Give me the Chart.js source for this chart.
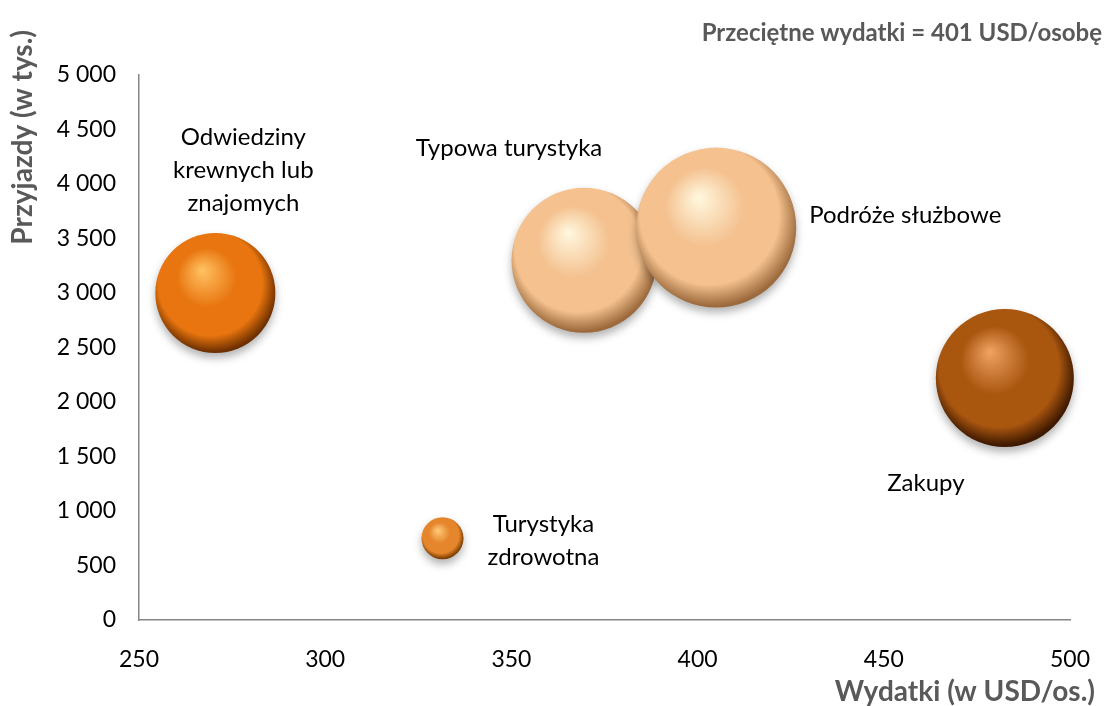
<!DOCTYPE html>
<html lang="pl">
<head>
    <meta charset="UTF-8">
    <title>Przyjazdy a wydatki</title>
    <script src="https://cdn.jsdelivr.net/npm/chart.js"></script>
    <style>
        html, body { margin: 0; padding: 0; background: #fff; }
        #wrap { width: 1108px; height: 706px; position: relative; }
    </style>
</head>
<body>
<div id="wrap"><canvas id="wykres"></canvas></div>
<script>
    // Dane
    const kategorie = ["Odwiedziny krewnych lub znajomych", "Typowa turystyka", "Podróże służbowe", "Zakupy", "Turystyka zdrowotna"];
    const wydatki = [270.5, 369.5, 405, 482.5, 331.5];     // USD/os.
    const przyjazdy = [3000, 3300, 3600, 2220, 750];        // tys.
    const wielkosc = [563, 821, 1000, 744, 69];             // względna wielkość bąbla
    const xTicks = [250, 300, 350, 400, 450, 500];
    const yTicks = [0, 500, 1000, 1500, 2000, 2500, 3000, 3500, 4000, 4500, 5000];

    const FONT = "Lato, 'Open Sans', sans-serif";
    const maxR = 80;
    const maxW = Math.max(...wielkosc);

    // kolory kul: [jasny blik, kolor bazowy, ciemna krawędź]
    const kolory = [
        ['#ffc060', '#e8750f', '#6e3000'],
        ['#fff6dc', '#f4c18f', '#9c6a3c'],
        ['#fff6dc', '#f4c18f', '#9c6a3c'],
        ['#eea060', '#a9560f', '#3e1800'],
        ['#ffc877', '#e5862c', '#7a3a00']
    ];

    // etykiety: przesunięcie względem środka kuli (px)
    const etykiety = [
        { lines: ["Odwiedziny", "krewnych lub", "znajomych"], dx: 28, dy: -156, align: 'center' },
        { lines: ["Typowa turystyka"], dx: -75, dy: -112, align: 'center' },
        { lines: ["Podróże służbowe"], dx: 93, dy: -12, align: 'left' },
        { lines: ["Zakupy"], dx: -79, dy: 105, align: 'center' },
        { lines: ["Turystyka", "zdrowotna"], dx: 101, dy: -14, align: 'center' }
    ];

    const punkty = kategorie.map((k, i) => ({
        x: wydatki[i],
        y: przyjazdy[i],
        r: maxR * Math.sqrt(wielkosc[i] / maxW)
    }));

    function formatTys(v) {
        return String(v).replace(/\B(?=(\d{3})+(?!\d))/g, ' ');
    }

    function kula(ctx) {
        const chart = ctx.chart;
        const i = ctx.dataIndex;
        const c = kolory[i] || kolory[0];
        if (!chart.chartArea || !ctx.raw) return c[1];
        const x = chart.scales.x.getPixelForValue(ctx.raw.x);
        const y = chart.scales.y.getPixelForValue(ctx.raw.y);
        const r = ctx.raw.r;
        const g = chart.ctx.createRadialGradient(x - r * 0.22, y - r * 0.38, r * 0.02, x - r * 0.05, y - r * 0.1, r * 1.08);
        g.addColorStop(0, c[0]);
        g.addColorStop(0.45, c[1]);
        g.addColorStop(0.8, c[1]);
        g.addColorStop(1, c[2]);
        return g;
    }

    const cien = {
        id: 'cien',
        beforeDatasetsDraw(chart) {
            const ctx = chart.ctx;
            ctx.save();
            ctx.shadowColor = 'rgba(0,0,0,0.3)';
            ctx.shadowBlur = 8;
            ctx.shadowOffsetY = 5;
        },
        afterDatasetsDraw(chart) {
            chart.ctx.restore();
        }
    };

    const napisy = {
        id: 'napisy',
        afterDraw(chart) {
            const ctx = chart.ctx;
            const meta = chart.getDatasetMeta(0);
            ctx.save();
            ctx.fillStyle = '#000';
            ctx.font = "24px " + FONT;
            ctx.textBaseline = 'middle';
            meta.data.forEach((el, i) => {
                const e = etykiety[i];
                ctx.textAlign = e.align;
                e.lines.forEach((t, j) => {
                    ctx.fillText(t, el.x + e.dx, el.y + e.dy + j * 33);
                });
            });

            const a = chart.chartArea;
            ctx.fillStyle = '#595959';
            ctx.font = "bold 24px " + FONT;
            ctx.textAlign = 'right';
            ctx.fillText("Przeciętne wydatki = 401 USD/osobę", 1102, 33);
            ctx.font = "bold 28px " + FONT;
            ctx.fillText("Wydatki (w USD/os.)", 1095, 692);

            ctx.translate(23, a.top - 45);
            ctx.rotate(-Math.PI / 2);
            ctx.textAlign = 'right';
            ctx.fillText("Przyjazdy (w tys.)", 0, 0);
            ctx.restore();
        }
    };

    new Chart(document.getElementById('wykres'), {
        type: 'bubble',
        data: {
            datasets: [{
                label: 'Przyjazdy',
                data: punkty,
                backgroundColor: kula,
                borderWidth: 0,
                hoverRadius: 0,
                clip: false
            }]
        },
        options: {
            responsive: true,
            maintainAspectRatio: false,
            animation: false,
            layout: { autoPadding: false, padding: { left: 10, right: 38, top: 75, bottom: 10 } },
            plugins: {
                legend: { display: false },
                tooltip: { enabled: false }
            },
            scales: {
                x: {
                    type: 'linear',
                    min: 250,
                    max: 500,
                    afterBuildTicks: s => { s.ticks = xTicks.map(v => ({ value: v })); },
                    afterFit: s => {
                        s.height = 706 - 620 - 10;
                        s.paddingLeft = 0; s.paddingRight = 0;
                    },
                    grid: { display: false, drawTicks: false },
                    border: { display: true, color: '#868686', width: 1.5 },
                    ticks: { color: '#000', padding: 26, maxRotation: 0, font: { family: FONT, size: 23 } }
                },
                y: {
                    type: 'linear',
                    min: 0,
                    max: 5000,
                    afterBuildTicks: s => { s.ticks = yTicks.map(v => ({ value: v })); },
                    afterFit: s => {
                        s.width = 139 - 10;
                        s.paddingTop = 0; s.paddingBottom = 0;
                    },
                    grid: { display: false, drawTicks: false },
                    border: { display: true, color: '#868686', width: 1.5 },
                    ticks: { color: '#000', padding: 23, font: { family: FONT, size: 23 }, callback: v => formatTys(v) }
                }
            }
        },
        plugins: [cien, napisy]
    });
</script>
</body>
</html>
